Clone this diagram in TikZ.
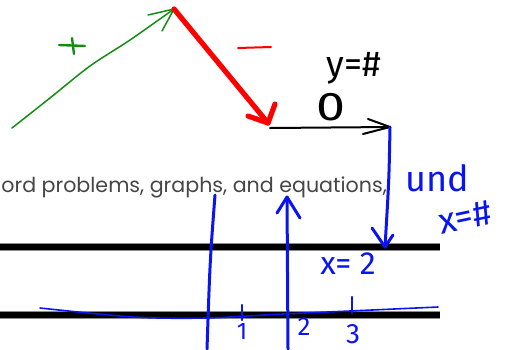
\documentclass[tikz,border=0pt]{standalone}
\usepackage{fontspec}
\setmainfont{Poppins}
\newfontfamily\handfont{Fira Sans}
\usepackage{xcolor}
\usetikzlibrary{arrows.meta}

\definecolor{penGreen}{RGB}{20,140,20}
\definecolor{penBlue}{RGB}{10,20,240}
\definecolor{slideGray}{RGB}{70,70,70}

\begin{document}
\begin{tikzpicture}[
    x=0.5pt, y=-0.5pt,
    greenpen/.style={draw=penGreen, line width=0.75pt, line cap=round, line join=round},
    redpen/.style={draw=red, line width=2.6pt, line cap=round, line join=round},
    blackpen/.style={draw=black, line width=1pt, line cap=round, line join=round},
    bluepen/.style={draw=penBlue, line width=1.5pt, line cap=round, line join=round},
    thinblue/.style={draw=penBlue, line width=0.8pt, line cap=round},
    rule/.style={draw=black, line width=3.4pt},
    ruleedge/.style={draw=black!45, line width=4.2pt},
    hand/.style={font=\handfont\fontsize{#1}{#1}\selectfont, inner sep=0pt},
    hand/.default=18
]
    \useasboundingbox (0,0) rectangle (512,349);

    % Slide text and rules
    \node[anchor=base west, inner sep=0pt, text=slideGray, font=\fontsize{10.3}{10.3}\selectfont] (slidetext) at (1,192) {ord problems, graphs, and equations,};
    \draw[ruleedge] (0,247) -- (440,247);
    \draw[rule] (0,247) -- (440,247);
    \draw[ruleedge] (0,315) -- (440,315);
    \draw[rule] (0,315) -- (440,315);

    % Green stroke (+)
    \coordinate (gstart) at (12,128);
    \coordinate (peak) at (174,9);
    \draw[greenpen] plot[smooth] coordinates {(12,128) (50,98) (90,66) (130,40) (174,9)};
    \draw[greenpen] (148,15) -- (peak) -- (162,31);
    \draw[greenpen, line width=1.2pt] (59,45) -- (85,46);
    \draw[greenpen, line width=1.2pt] (72,38) -- (74,54);

    % Red stroke (-)
    \coordinate (valley) at (268,123);
    \draw[redpen] (peak) -- (valley);
    \draw[redpen] (248,116) -- (valley) -- (275,104);
    \draw[draw=red, line width=1pt, line cap=round] (238,48) -- (271,47);

    % Black stroke, y = 0
    \coordinate (flatend) at (390,127);
    \draw[blackpen] (270,128) -- (flatend);
    \draw[blackpen] (368,119) -- (flatend) -- (363,134);
    \node[hand=18, text=black] (yeq) at (354,68) {y=\#};
    \node[hand=20, text=black, xscale=1.3] (zero) at (331,107) {0};

    % Blue stroke down to the line
    \coordinate (drop) at (385,247);
    \draw[bluepen] (flatend) .. controls (389,180) .. (drop);
    \draw[bluepen] (372,228) -- (drop) -- (393,235);
    \node[hand=18, text=penBlue] (und) at (437,178) {und};
    \node[hand=18, text=penBlue, rotate=12] (xeq) at (465,217) {x=\#};
    \node[hand=16, text=penBlue] (xtwo) at (348,264) {x= 2};

    % Blue axes
    \draw[bluepen] (215,195) .. controls (210,260) .. (207,349);
    \coordinate (uptip) at (287,197);
    \draw[bluepen] (288,349) -- (uptip);
    \draw[bluepen] (277,213) -- (uptip) -- (300,218);
    \draw[thinblue] plot[smooth] coordinates {(40,308) (133,317) (205,318) (283,314) (350,311) (438,307)};
    \draw[thinblue, line width=1.1pt] (242,305) -- (242,320);
    \draw[thinblue, line width=1.1pt] (352,297) -- (352,313);
    \node[hand=12, text=penBlue] (one) at (242,331) {1};
    \node[hand=13, text=penBlue] (two) at (304,327) {2};
    \node[hand=14, text=penBlue] (three) at (353,334) {3};
\end{tikzpicture}
\end{document}
